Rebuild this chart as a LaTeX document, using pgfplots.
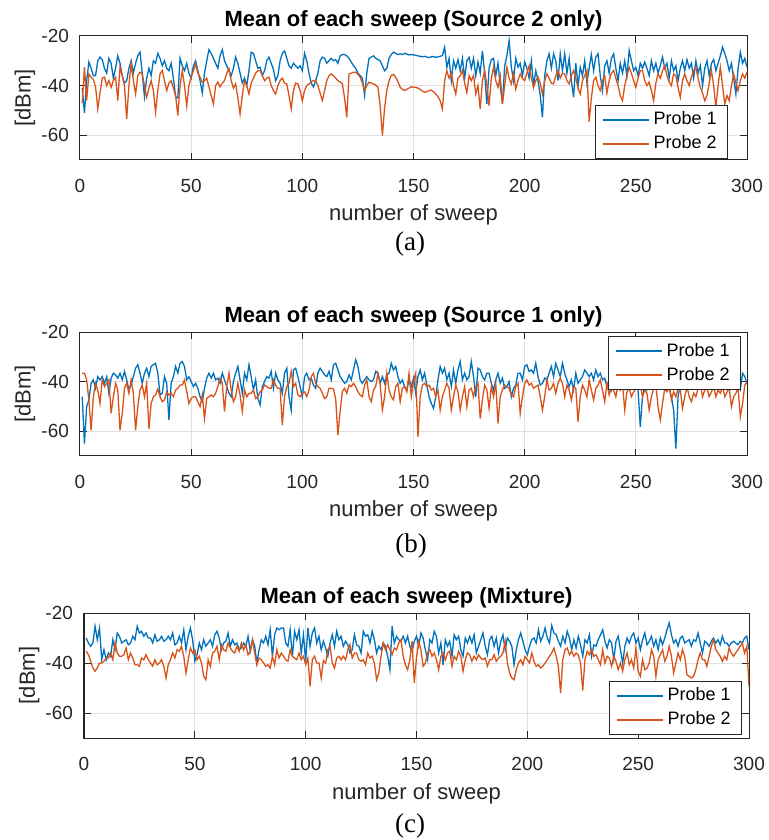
\documentclass[border=0pt]{standalone}
\usepackage{pgfplots}
\pgfplotsset{compat=1.18}
\usepackage{pgfplotstable}
\usepackage{fontspec}
\setmainfont{Liberation Sans}
\newfontfamily\timesfont{Liberation Serif}
\definecolor{mblue}{rgb}{0,0.447,0.741}
\definecolor{morange}{rgb}{0.85,0.325,0.098}
\definecolor{axgray}{rgb}{0.15,0.15,0.15}

% (a) Source 2 only
\pgfplotstableread[row sep=\\]{y\\
-41\\-51\\-38\\-30.5\\-33\\-36\\-36\\-30\\-28.5\\-29.5\\
-33\\-35\\-29\\-31\\-37\\-33\\-28\\-31\\-36\\-39\\
-38\\-33\\-30\\-35\\-31\\-28\\-26.5\\-35\\-44.5\\-37\\
-33\\-36\\-30\\-31\\-27\\-29\\-32\\-30\\-33\\-34\\
-31\\-37\\-44.5\\-45\\-29\\-32\\-34\\-31\\-35\\-37\\
-32\\-30\\-34\\-38\\-43\\-35\\-30\\-25.5\\-27\\-29\\
-31\\-33\\-28\\-25.5\\-30\\-32\\-34\\-36\\-33\\-28.5\\
-31\\-35\\-39\\-37\\-40\\-34\\-26.5\\-27\\-30\\-33\\
-32.6\\-36\\-34\\-30\\-28.5\\-31\\-33.5\\-38\\-36\\-30\\
-27\\-26\\-29\\-32\\-33\\-31\\-32\\-33\\-32\\-34\\
-27\\-30\\-35\\-39\\-40.5\\-38\\-35\\-30\\-28.5\\-29\\
-31\\-30\\-29\\-30\\-29.5\\-31\\-28\\-27.5\\-27.5\\-28\\
-29\\-30.5\\-32\\-33\\-35\\-36\\-37\\-44\\-35\\-29\\
-28.5\\-28\\-29\\-29.5\\-30\\-32\\-34\\-33\\-29\\-27.5\\
-26.5\\-27\\-27.5\\-27.2\\-27.5\\-27\\-27.3\\-27.6\\-27.5\\-27.6\\
-27.8\\-28\\-28.2\\-28.4\\-28.2\\-28.5\\-28.7\\-28.4\\-28.3\\-28.6\\
-28.4\\-28.2\\-27.9\\-24.5\\-32.6\\-29\\-38\\-30\\-33\\-29.5\\
-34\\-29\\-37\\-30\\-28.5\\-33\\-29\\-36\\-30.5\\-35\\
-26\\-35\\-47.4\\-33\\-29.5\\-29\\-36\\-31\\-40\\-47.4\\
-32\\-28\\-21.8\\-32.6\\-38\\-29\\-32.6\\-31\\-36\\-30.5\\
-33\\-37\\-30\\-40\\-34\\-38\\-44\\-52.8\\-36\\-30\\
-27.2\\-33\\-27.2\\-30\\-38\\-27.2\\-34\\-27.2\\-35\\-29\\
-38\\-44.7\\-31\\-40\\-32.6\\-36\\-30\\-39\\-33\\-27.5\\
-34\\-28.5\\-27.2\\-36\\-42\\-32\\-30\\-35\\-29\\-27.2\\
-33\\-38\\-31\\-35\\-30\\-36\\-25.8\\-30\\-34\\-32.6\\
-36\\-31\\-33\\-30.5\\-33\\-36\\-30\\-34\\-31\\-35\\
-32\\-28.5\\-33\\-31\\-37\\-30\\-34\\-32\\-38\\-33\\
-30\\-34\\-29.5\\-33\\-31\\-37\\-30\\-35\\-32\\-40\\
-33\\-30\\-36\\-31\\-29.5\\-34\\-31\\-28\\-24.5\\-27\\
-30\\-34\\-31\\-37\\-43.4\\-33\\-26.5\\-31\\-29\\-32.6\\
}\aone
\pgfplotstableread[row sep=\\]{y\\
-47\\-32.6\\-46\\-35.3\\-36.6\\-37.5\\-40.5\\-49.4\\-43\\-37\\
-36.6\\-40\\-38\\-40.7\\-38\\-36.6\\-46\\-32.6\\-36\\-40\\
-53.5\\-40\\-31.2\\-38\\-43.4\\-36\\-34.6\\-35.3\\-40\\-44.7\\
-41\\-38\\-42\\-50.8\\-42\\-35.3\\-33.9\\-38\\-42\\-39\\
-38\\-41\\-44\\-52.1\\-40\\-33.9\\-40\\-48.1\\-40\\-36.6\\
-34\\-31.2\\-35\\-36.6\\-38.6\\-38\\-37\\-40.5\\-44\\-47.4\\
-40\\-38.6\\-40.5\\-39\\-38\\-35\\-33.2\\-38\\-41\\-39.3\\
-45\\-51.5\\-44\\-38\\-40\\-43.4\\-39\\-37\\-35\\-34\\
-33.9\\-36\\-38\\-37\\-36.6\\-40\\-42\\-43.4\\-40\\-38\\
-37\\-39\\-39.3\\-44\\-49.4\\-42\\-39\\-39.3\\-42\\-46.1\\
-42\\-40\\-39.3\\-38.5\\-38\\-38\\-40\\-43\\-46\\-42\\
-38\\-36\\-35.3\\-36\\-37\\-38\\-38.5\\-39.3\\-45\\-52.8\\
-35.3\\-35\\-34.6\\-34.6\\-35.5\\-36.6\\-39\\-42\\-40\\-38.6\\
-39\\-39.3\\-39.8\\-40.7\\-48\\-60.2\\-49\\-42\\-38\\-35.9\\
-35.5\\-36.6\\-38.5\\-40.7\\-41.5\\-42\\-41.5\\-41\\-40.5\\-40.7\\
-40.7\\-41\\-41.5\\-42.2\\-42.7\\-42.5\\-42\\-41.8\\-42.5\\-43.4\\
-44.5\\-46.1\\-49.4\\-38\\-34\\-37\\-35\\-40\\-43.4\\-37\\
-36\\-33.9\\-39\\-42.7\\-36\\-38\\-35.9\\-43.4\\-40\\-49.4\\
-38\\-33.9\\-40\\-48.1\\-37\\-32.6\\-38\\-40.7\\-36\\-47.4\\
-40\\-32.6\\-37\\-39.3\\-35\\-41.4\\-38\\-35.3\\-37\\-38\\
-35\\-32\\-37\\-40.7\\-38\\-36.6\\-39\\-43.4\\-38\\-35.3\\
-37\\-39\\-39.3\\-36\\-34\\-37\\-35\\-35.3\\-38\\-39.3\\
-36\\-33.9\\-37\\-41\\-43.4\\-38\\-36\\-33.9\\-54.5\\-45\\
-38\\-36.6\\-40\\-42\\-38\\-36\\-43\\-38\\-35\\-33.9\\
-37\\-40\\-44\\-46.1\\-40\\-36\\-32.6\\-35\\-38\\-40.7\\
-37\\-34\\-33.9\\-38\\-40\\-38.6\\-42\\-46.1\\-39\\-35.3\\
-37\\-34\\-31.9\\-36\\-38.6\\-40\\-35.3\\-36\\-41\\-44.7\\
-38\\-35.3\\-38\\-40\\-36.6\\-34\\-32.6\\-37\\-40.7\\-43\\
-46.1\\-44\\-39\\-33.9\\-40\\-48.8\\-40\\-32.6\\-40\\-47.4\\
-44\\-46.1\\-40\\-35.3\\-39\\-42\\-38\\-35.3\\-37\\-34.6\\
}\atwo

% (b) Source 1 only
\pgfplotstableread[row sep=\\]{y\\
-46.1\\-65\\-50.1\\-47.4\\-40.7\\-39.3\\-42.7\\-38\\-39.3\\-38\\
-40.7\\-38\\-44.7\\-38.6\\-36.6\\-37.3\\-38.6\\-36.6\\-39.3\\-35.9\\
-39.3\\-43.4\\-41.4\\-38\\-34.6\\-33.2\\-36.6\\-40.7\\-36.6\\-34.6\\
-38\\-33.9\\-33.2\\-32.6\\-36.6\\-45.4\\-44.7\\-38\\-40.7\\-55.5\\
-40.7\\-38\\-33.9\\-36.6\\-32.6\\-31.9\\-33.9\\-39.3\\-38\\-40\\
-42\\-40.7\\-42.7\\-46.1\\-48.1\\-42.7\\-38.6\\-36.6\\-38.6\\-36.6\\
-39.3\\-38.6\\-40.7\\-36.6\\-39.3\\-42\\-44.7\\-46.1\\-40\\-36.6\\
-33.9\\-39.3\\-44.7\\-36.6\\-39.3\\-33.2\\-38\\-43.4\\-39.3\\-46.8\\
-49.4\\-42\\-40\\-38\\-38.6\\-35.9\\-42.7\\-36.6\\-39.3\\-40.7\\
-44.7\\-36.6\\-34.6\\-46.1\\-51.5\\-35.3\\-34.6\\-38\\-42\\-46.1\\
-38\\-36.6\\-39.3\\-38.6\\-41.4\\-42.7\\-36.6\\-34.6\\-35.9\\-37.3\\
-38\\-35.9\\-39.3\\-33.2\\-32.6\\-35.3\\-38\\-39.3\\-40.7\\-40\\
-37.3\\-39.3\\-35.3\\-31.2\\-33.9\\-39.3\\-40.7\\-39.3\\-38\\-39.3\\
-40\\-39.3\\-35.9\\-36.6\\-40.7\\-38\\-40.7\\-37.3\\-36.6\\-32.6\\
-35.3\\-33.9\\-38\\-40.7\\-39.3\\-42\\-43.4\\-39.3\\-42\\-38.6\\
-44.7\\-38\\-35.3\\-39.3\\-36.6\\-41.4\\-46.1\\-48.8\\-50.8\\-46.1\\
-39.3\\-33.9\\-36.6\\-34.6\\-39.3\\-36.6\\-42\\-35.3\\-40.7\\-35.3\\
-31.9\\-39.3\\-36.6\\-39.3\\-38\\-31.9\\-38\\-46.1\\-34.6\\-35.3\\
-38\\-39.3\\-36.6\\-36.6\\-40.7\\-43.4\\-39.3\\-36.6\\-40.7\\-38.6\\
-42.7\\-42\\-40\\-46.1\\-42.7\\-41.4\\-36.6\\-36.6\\-39.3\\-33.9\\
-33.2\\-35.9\\-35.3\\-36.6\\-32.6\\-38\\-41.4\\-40.7\\-38.6\\-39.3\\
-36.6\\-33.9\\-38\\-32.6\\-35.3\\-38\\-32.6\\-36.6\\-39.3\\-42\\
-39.3\\-43.4\\-36.6\\-40.7\\-39.3\\-38\\-35.3\\-36.6\\-38\\-36.6\\
-39.3\\-35.3\\-38\\-36.6\\-39.3\\-38.6\\-42\\-39.3\\-43.4\\-39.3\\
-42\\-38\\-41.4\\-39.3\\-42.7\\-39.3\\-40.7\\-38\\-42\\-40\\
-43.4\\-58.2\\-46.1\\-40.7\\-43.4\\-41.4\\-39.3\\-38\\-41.4\\-39.3\\
-42\\-38.6\\-40.7\\-42\\-42.7\\-46.1\\-51.5\\-67\\-46.1\\-40.7\\
-39.3\\-42\\-40.7\\-39.3\\-41\\-38\\-40\\-42\\-39\\-37.5\\
-40\\-38.5\\-41\\-39\\-37\\-40\\-42\\-38.6\\-40\\-41.4\\
-38\\-40\\-42\\-39.3\\-37.3\\-40\\-43\\-36.6\\-38\\-41\\
}\bone
\pgfplotstableread[row sep=\\]{y\\
-36.6\\-36.6\\-39.3\\-47.4\\-59.6\\-46.1\\-40.7\\-43.4\\-48.8\\-39.3\\
-42\\-40.7\\-39.3\\-52.8\\-46.1\\-40.7\\-43.4\\-59.6\\-52.8\\-42.7\\
-40.7\\-44.7\\-39.3\\-44.7\\-59.6\\-50.1\\-43.4\\-41.4\\-46.1\\-40.7\\
-59\\-48.8\\-46.1\\-45.4\\-43\\-46.1\\-48.1\\-47.4\\-44.1\\-45.4\\
-44.7\\-46.1\\-43.4\\-42.7\\-41.4\\-41.4\\-39.3\\-44.1\\-48.8\\-46.8\\
-46.1\\-46.1\\-48.1\\-50.1\\-45.4\\-54.9\\-46.8\\-46.1\\-45.4\\-46.1\\
-44.7\\-42\\-38.6\\-40.7\\-52.1\\-42\\-36.6\\-43.4\\-48.1\\-46.1\\
-40.7\\-45.4\\-52.1\\-43.4\\-46.1\\-44.7\\-44.7\\-43.4\\-46.8\\-46.1\\
-44.1\\-43.4\\-41.4\\-42\\-42.7\\-42.7\\-39.3\\-41.4\\-42.7\\-42.7\\
-57.5\\-46.1\\-42\\-40.7\\-35.9\\-42\\-40.7\\-45.4\\-46.1\\-44.7\\
-44.1\\-46.1\\-43.4\\-38\\-36.6\\-40.7\\-42\\-42.7\\-44.7\\-46.8\\
-46.1\\-42.7\\-42.7\\-43\\-47\\-61.6\\-52\\-44\\-42.7\\-44.7\\
-41.4\\-42\\-40.7\\-42\\-44.1\\-45.4\\-46.1\\-41.4\\-39.3\\-46.1\\
-48.1\\-43.4\\-42\\-36.6\\-40.7\\-51.5\\-46.1\\-36.6\\-43.4\\-46.1\\
-47.4\\-42\\-40.7\\-48.1\\-42.7\\-42\\-44.1\\-36.6\\-46.1\\-40\\
-36.6\\-62.3\\-46.1\\-41.4\\-40.7\\-42\\-41.4\\-43.4\\-42.7\\-46.1\\
-43.4\\-51.5\\-46.1\\-43.4\\-40.7\\-42.7\\-51.5\\-46.1\\-41.4\\-44.1\\
-51.5\\-46.1\\-42\\-50.1\\-43.4\\-42.7\\-46.1\\-42\\-40.7\\-54.9\\
-47.4\\-41.4\\-43.4\\-50.8\\-42\\-46.1\\-40.7\\-56.9\\-46.1\\-43.4\\
-41.4\\-42\\-42.7\\-45.4\\-46.1\\-42\\-40.7\\-52.8\\-46.1\\-40.7\\
-39.3\\-41.4\\-40.7\\-42.7\\-42\\-41.4\\-46.1\\-51.5\\-46.1\\-39.3\\
-43.4\\-42.7\\-40.7\\-44.7\\-40.7\\-38.6\\-40.7\\-46.1\\-41.4\\-43.4\\
-47.4\\-42\\-42.7\\-56.2\\-46.1\\-41.4\\-43.4\\-46.1\\-39.3\\-43.4\\
-47.4\\-42.7\\-41.4\\-39.3\\-43.4\\-48.1\\-40.7\\-45.4\\-42\\-43.4\\
-46.1\\-41.4\\-43.4\\-40.7\\-51.5\\-44.1\\-42.7\\-46.1\\-44.1\\-42.7\\
-40.7\\-41.4\\-46.1\\-43.4\\-44.7\\-51.5\\-46.1\\-42.7\\-41.4\\-50.1\\
-55.5\\-48.8\\-42.7\\-44.1\\-42\\-47.4\\-44.1\\-46.1\\-42.7\\-43.4\\
-50.8\\-46.1\\-42\\-46.1\\-48.1\\-44.7\\-46.1\\-42.7\\-40.7\\-46.1\\
-43.4\\-42.7\\-46.1\\-44.1\\-42\\-46.1\\-43.4\\-44.7\\-42\\-46.1\\
-44.1\\-42.7\\-50.1\\-46.1\\-44.7\\-42.7\\-54.2\\-48.8\\-41.4\\-40\\
}\btwo

% (c) Mixture
\pgfplotstableread[row sep=\\]{y\\
-30\\-32\\-33.3\\-32\\-25.3\\-30.7\\-26\\-38.7\\-34.7\\-38.7\\
-36\\-37.3\\-30.7\\-34.7\\-28\\-29.3\\-32\\-31.3\\-30.7\\-32.7\\
-32\\-29.3\\-30.7\\-25.3\\-28\\-27.3\\-29.3\\-28\\-30\\-30\\
-32\\-28.7\\-31.3\\-30.7\\-29.3\\-31.3\\-30.7\\-29.3\\-30.7\\-28\\
-32.7\\-32\\-29.3\\-32\\-26.7\\-34.7\\-29.3\\-26\\-30.7\\-39.3\\
-36.7\\-32\\-34.7\\-30.7\\-33.3\\-32\\-30.7\\-33.3\\-28.7\\-27.3\\
-30\\-34.7\\-32\\-31.3\\-28\\-33.3\\-30.7\\-32.7\\-32\\-34.7\\
-34\\-32\\-33.3\\-29.3\\-35.3\\-30.7\\-33.3\\-40\\-34.7\\-30.7\\
-32\\-29.3\\-32.7\\-26.7\\-37.3\\-28.7\\-26\\-26.7\\-26\\-26\\
-32\\-33.3\\-26.7\\-37.3\\-27.3\\-30.7\\-26.7\\-36\\-28.7\\-39.3\\
-26\\-33.3\\-28\\-26\\-32\\-29.3\\-34.7\\-31.3\\-34\\-37.3\\
-32\\-28.7\\-33.3\\-27.3\\-30.7\\-29.3\\-33.3\\-31.3\\-32.7\\-36\\
-34.7\\-28.7\\-32.7\\-33.3\\-36\\-27.3\\-29.3\\-28.7\\-32\\-27.3\\
-30.7\\-36\\-33.3\\-34.7\\-32\\-33.3\\-37.3\\-42.7\\-25.3\\-32\\
-29.3\\-30.7\\-31.3\\-29.3\\-32\\-29.3\\-33.3\\-35.3\\-31.3\\-29.3\\
-33.3\\-28\\-30\\-34.7\\-38.7\\-30.7\\-32\\-27.3\\-29.3\\-36\\
-32\\-40.7\\-30.7\\-33.3\\-31.3\\-37.3\\-28.7\\-30.7\\-29.3\\-34.7\\
-37.3\\-30\\-32\\-29.3\\-32\\-28.7\\-36\\-33.3\\-30.7\\-28\\
-33.3\\-36.7\\-30.7\\-29.3\\-33.3\\-30\\-36\\-31.3\\-28.7\\-34.7\\
-30\\-31.3\\-33.3\\-40.7\\-34.7\\-30.7\\-28\\-31.3\\-34.7\\-36.7\\
-33.3\\-30.7\\-30\\-32\\-26.7\\-31.3\\-29.3\\-26\\-30\\-32\\
-25\\-28\\-28.7\\-31.3\\-33.3\\-29.3\\-32\\-27.3\\-30\\-34.7\\
-30.7\\-34\\-29.3\\-32.7\\-37.3\\-30.7\\-32\\-28.7\\-37.3\\-32.7\\
-33.3\\-30.7\\-28.7\\-26.7\\-31.3\\-34\\-30.7\\-32\\-38.7\\-31.3\\
-29.3\\-34.7\\-40\\-33.3\\-30\\-32\\-29.3\\-28\\-32\\-30\\
-34.7\\-30.7\\-28\\-32.7\\-31.3\\-29.3\\-33.3\\-30.7\\-34.7\\-30\\
-32.7\\-30\\-26.7\\-24\\-28.7\\-32\\-30.7\\-33.3\\-30\\-29.3\\
-32\\-31.3\\-30.7\\-33.3\\-30.7\\-31.3\\-28\\-32\\-36\\-31.3\\
-32\\-33.3\\-31.3\\-30\\-32\\-30.7\\-32.7\\-29.3\\-32\\-32\\
-33.3\\-32\\-31.3\\-32\\-32.7\\-31.3\\-32\\-30\\-29.3\\-34.7\\
}\cone
\pgfplotstableread[row sep=\\]{y\\
-35.3\\-36.7\\-39.3\\-42\\-43.3\\-42\\-40\\-40\\-39.3\\-38\\
-38\\-36\\-38.7\\-32\\-36\\-37.3\\-37.3\\-36.7\\-34\\-38.7\\
-36\\-38\\-40.7\\-40.7\\-41.3\\-38\\-38.7\\-36.7\\-38.7\\-40\\
-41.3\\-38.7\\-40.7\\-40\\-38.7\\-41.3\\-46\\-40.7\\-38.7\\-36\\
-38\\-34.7\\-35.3\\-33.3\\-37.3\\-44\\-38.7\\-34\\-36\\-34.7\\
-38.7\\-37.3\\-40\\-45.3\\-46.7\\-38.7\\-41.3\\-36\\-35.3\\-33.3\\
-38.7\\-32.7\\-34.7\\-35.3\\-32\\-34\\-35.3\\-36\\-33.3\\-35.3\\
-32\\-34.7\\-32.7\\-36.7\\-35.3\\-30.7\\-36\\-40.7\\-38\\-38.7\\
-40\\-41.3\\-40.7\\-42\\-37.3\\-40.7\\-34.7\\-38\\-36\\-37.3\\
-38.7\\-39.3\\-34.7\\-37.3\\-38\\-38.7\\-36\\-38.7\\-37.3\\-40.7\\
-38\\-49.3\\-38.7\\-37.3\\-40\\-40\\-46\\-39\\-40\\-34.7\\
-33.3\\-40\\-42\\-38\\-37.3\\-38.7\\-37.3\\-38.7\\-34.7\\-32.7\\
-38\\-36\\-36\\-38.7\\-39.3\\-38.7\\-40.7\\-36\\-38\\-37.3\\
-40\\-46.7\\-44\\-37.3\\-32\\-34.7\\-32.7\\-34.7\\-36.7\\-34\\
-34.7\\-32\\-30.7\\-37.3\\-40.7\\-42.7\\-38.7\\-31.3\\-48\\-38\\
-31.3\\-34.7\\-41.3\\-40\\-36\\-34.7\\-37.3\\-36\\-38.7\\-42.7\\
-37.3\\-36\\-38.7\\-36\\-35.3\\-41.3\\-37.3\\-38.7\\-35.3\\-37.3\\
-43.3\\-38.7\\-36\\-36.7\\-39.3\\-37.3\\-38.7\\-36.7\\-38\\-38.7\\
-38\\-41.3\\-38.7\\-38.7\\-36.7\\-39.3\\-38\\-37.3\\-36\\-31.3\\
-40\\-44\\-46\\-46.7\\-42.7\\-40\\-38.7\\-40.7\\-37.3\\-38.7\\
-40\\-36\\-39.3\\-41.3\\-40.7\\-42\\-41.3\\-40\\-38.7\\-37.3\\
-36\\-34\\-37.3\\-41.3\\-52\\-38.7\\-34.7\\-34\\-36.7\\-35.3\\
-37.3\\-36\\-36.7\\-40\\-51\\-38.7\\-35.3\\-36.7\\-34.7\\-37.3\\
-36.7\\-38.7\\-40.7\\-34.7\\-40\\-37.3\\-38\\-41.3\\-37.3\\-39.3\\
-42.7\\-40\\-43.3\\-38.7\\-36\\-40.7\\-38.7\\-42\\-34\\-43.3\\
-45.3\\-38.7\\-42.7\\-42\\-40\\-34.7\\-37.3\\-45.3\\-38.7\\-36.7\\
-34.7\\-39.3\\-37.3\\-33.3\\-37.3\\-44\\-40\\-36\\-38.7\\-34.7\\
-37.3\\-44.7\\-45.3\\-46\\-45.3\\-42.7\\-38.7\\-36\\-38.7\\-38.7\\
-41.3\\-37.3\\-33.3\\-30.7\\-34.7\\-36\\-37.3\\-39.3\\-37.3\\-38.7\\
-34\\-36\\-37.3\\-36\\-34.7\\-33.3\\-32\\-36\\-33.3\\-49.3\\
}\ctwo

\pgfplotsset{
  myaxis/.style={
    scale only axis, width=333.5pt, height=62pt,
    xmin=0, xmax=300, ymin=-70, ymax=-20,
    xtick={0,50,...,300}, ytick={-60,-40,-20},
    grid=major, major grid style={line width=0.5pt, color=black!12},
    axis line style={line width=0.5pt, color=axgray},
    tick style={line width=0.5pt, color=axgray},
    major tick length=3.5pt,
    tick label style={font=\fontsize{9.5}{11}\selectfont, color=axgray},
    /pgf/number format/assume math mode=true,
    xticklabel style={yshift=-6pt},
    yticklabel style={xshift=-2pt},
    xlabel={number of sweep}, ylabel={[dBm]},
    label style={font=\fontsize{11}{13}\selectfont, color=axgray},
    xlabel style={at={(axis description cs:0.5,0)}, anchor=base, yshift=-30.5pt},
    ylabel style={at={(axis description cs:-0.0825,0.5)}, anchor=center},
    title style={font=\fontsize{11}{13}\selectfont\bfseries, at={(axis description cs:0.5,1)}, anchor=south, inner sep=0pt, yshift=-3.5pt},
    legend style={font=\fontsize{9}{11}\selectfont, draw=none, fill=white, inner xsep=3pt, inner ysep=1pt},
    legend cell align=left,
    every axis plot/.append style={line width=0.65pt},
  },
  bluel/.style={draw=mblue, no markers,
    legend image code/.code={\draw[draw=mblue, line width=1pt] (0pt,0pt) -- (23pt,0pt);}},
  orangel/.style={draw=morange, no markers,
    legend image code/.code={\draw[draw=morange, line width=1pt] (0pt,0pt) -- (23pt,0pt);}},
}

\begin{document}
\begin{tikzpicture}
\path[use as bounding box] (0,0) rectangle (384.5pt,-420pt);

\begin{axis}[myaxis, at={(40pt,-18pt)}, anchor=north west,
  title={Mean of each sweep (Source 2 only)},
  legend style={at={(axis description cs:0.970,0.016)}, anchor=south east, name=legA}]
\addplot[bluel] table[x expr=\coordindex+1, y=y]{\aone};
\addplot[orangel] table[x expr=\coordindex+1, y=y]{\atwo};
\legend{Probe 1, Probe 2}
\end{axis}
\draw[axgray, line width=0.5pt] (legA.south west) rectangle (legA.north east);

\begin{axis}[myaxis, at={(40pt,-166pt)}, anchor=north west,
  title={Mean of each sweep (Source 1 only)},
  legend style={at={(axis description cs:0.9895,0.96)}, anchor=north east, name=legB}]
\addplot[bluel] table[x expr=\coordindex+1, y=y]{\bone};
\addplot[orangel] table[x expr=\coordindex+1, y=y]{\btwo};
\legend{Probe 1, Probe 2}
\end{axis}
\draw[axgray, line width=0.5pt] (legB.south west) rectangle (legB.north east);

\begin{axis}[myaxis, width=332.5pt, height=62.5pt, at={(42pt,-306.5pt)}, anchor=north west,
  title={Mean of each sweep (Mixture)},
  legend style={at={(axis description cs:0.988,0.032)}, anchor=south east, name=legC}]
\addplot[bluel] table[x expr=\coordindex+1, y=y]{\cone};
\addplot[orangel] table[x expr=\coordindex+1, y=y]{\ctwo};
\legend{Probe 1, Probe 2}
\end{axis}
\draw[axgray, line width=0.5pt] (legC.south west) rectangle (legC.north east);

\node[font=\timesfont\fontsize{13.5}{15}\selectfont, anchor=base] at (205pt,-125pt) {(a)};
\node[font=\timesfont\fontsize{13.5}{15}\selectfont, anchor=base] at (205.5pt,-276pt) {(b)};
\node[font=\timesfont\fontsize{13.5}{15}\selectfont, anchor=base] at (205pt,-416pt) {(c)};
\end{tikzpicture}
\end{document}
